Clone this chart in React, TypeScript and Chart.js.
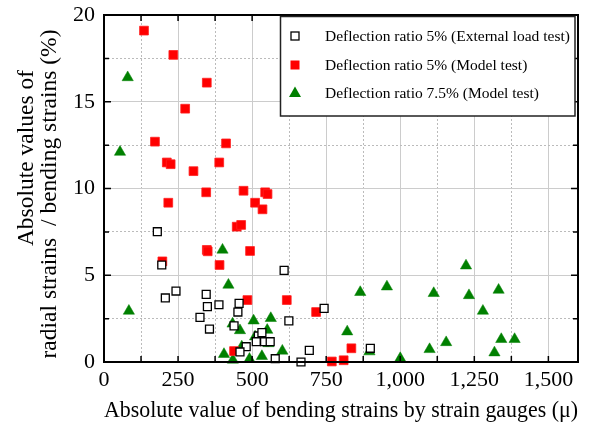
import React, { useEffect, useRef } from 'react';
import { Chart, registerables } from 'chart.js';

Chart.register(...registerables);

// ---------- data ----------
const seriesNames = [
  'Deflection ratio 5% (External load test)',
  'Deflection ratio 5% (Model test)',
  'Deflection ratio 7.5% (Model test)',
];

// [absolute bending strain (μ), radial/bending strain ratio (%)]
const externalLoad5: [number, number][] = [
  [180, 7.51], [195, 5.59], [243, 4.09], [207, 3.69], [345, 3.9], [349, 3.19],
  [388, 3.3], [456, 3.38], [452, 2.88], [324, 2.57], [356, 1.9], [439, 2.08],
  [608, 5.28], [624, 2.37], [743, 3.09], [693, 0.67], [480, 0.88], [459, 0.58],
  [521, 1.5], [533, 1.69], [514, 1.17], [542, 1.17], [561, 1.17], [578, 0.19],
  [665, 0.0], [899, 0.79],
];

const model5: [number, number][] = [
  [135, 19.1], [234, 17.7], [347, 16.1], [274, 14.6], [172, 12.7], [412, 12.6],
  [212, 11.5], [225, 11.4], [389, 11.5], [302, 11.0], [345, 9.78], [471, 9.87],
  [544, 9.78], [552, 9.68], [217, 9.18], [510, 9.18], [535, 8.8], [448, 7.8],
  [463, 7.9], [347, 6.46], [350, 6.38], [493, 6.4], [197, 5.8], [390, 5.59],
  [484, 3.57], [617, 3.57], [716, 2.88], [439, 0.63], [769, 0.03], [809, 0.1],
  [835, 0.79],
];

const model75: [number, number][] = [
  [80, 16.4], [54, 12.1], [400, 6.46], [420, 4.44], [84, 2.94], [505, 2.38],
  [563, 2.52], [434, 2.2], [459, 1.82], [551, 1.84], [510, 1.46], [465, 0.88],
  [555, 1.07], [405, 0.45], [435, 0.12], [491, 0.17], [533, 0.33], [602, 0.64],
  [821, 1.75], [865, 4.02], [955, 4.34], [1113, 3.96], [1222, 5.55], [1232, 3.84],
  [1332, 4.15], [1279, 2.94], [1341, 1.31], [1386, 1.31], [1155, 1.13], [1099, 0.73],
  [1318, 0.54], [1000, 0.21], [896, 0.6],
];

const xTickValues = [0, 125, 250, 375, 500, 625, 750, 875, 1000, 1125, 1250, 1375, 1500, 1600];
const xLabelEvery = 250;
const yTickValues = [0, 2.5, 5, 7.5, 10, 12.5, 15, 17.5, 20];
const yLabelEvery = 5;

const xTitle = 'Absolute value of bending strains by strain gauges (\u03bc)';
const yTitleLines = ['Absolute values of', 'radial strains  / bending strains (%)'];

const FONT = "'Liberation Serif', 'Times New Roman', serif";

const toPoints = (arr: [number, number][]) => arr.map(([x, y]) => ({ x, y }));

const isMajor = (v: number, every: number) => Math.abs(v / every - Math.round(v / every)) < 1e-6;

const decorPlugin = {
  id: 'decor',
  afterDraw(chart: any) {
    const { ctx, chartArea: a, scales } = chart;
    const xs = scales.x;
    const ys = scales.y;
    ctx.save();
    // frame
    ctx.strokeStyle = '#000';
    ctx.lineWidth = 2;
    ctx.strokeRect(a.left, a.top, a.right - a.left, a.bottom - a.top);
    // inward ticks
    ctx.lineWidth = 1.5;
    ctx.beginPath();
    xTickValues.forEach((v) => {
      if (v > 1500) return;
      const px = xs.getPixelForValue(v);
      const len = 6;
      ctx.moveTo(px, a.bottom);
      ctx.lineTo(px, a.bottom - len);
      ctx.moveTo(px, a.top);
      ctx.lineTo(px, a.top + len);
    });
    yTickValues.forEach((v) => {
      const py = ys.getPixelForValue(v);
      const len = isMajor(v, yLabelEvery) ? 7 : 5;
      ctx.moveTo(a.left, py);
      ctx.lineTo(a.left + len, py);
      ctx.moveTo(a.right, py);
      ctx.lineTo(a.right - len, py);
    });
    ctx.stroke();

    // y title (two rotated lines)
    ctx.fillStyle = '#000';
    ctx.font = `23.5px ${FONT}`;
    ctx.textAlign = 'center';
    ctx.textBaseline = 'middle';
    const yPos = [
      { x: 27, y: 158 },
      { x: 50, y: 194 },
    ];
    yTitleLines.forEach((t, i) => {
      ctx.save();
      ctx.translate(yPos[i].x, yPos[i].y);
      ctx.rotate(-Math.PI / 2);
      ctx.fillText(t, 0, 0);
      ctx.restore();
    });

    // legend box
    const bx = 280.5, by = 16.5, bw = 294.5, bh = 99.5;
    ctx.fillStyle = '#fff';
    ctx.fillRect(bx, by, bw, bh);
    ctx.strokeStyle = '#222';
    ctx.lineWidth = 1.5;
    ctx.strokeRect(bx, by, bw, bh);

    const rows = [36, 65, 93];
    const mx = 295;
    // open square
    ctx.lineWidth = 1.3;
    ctx.strokeStyle = '#000';
    ctx.strokeRect(mx - 4, rows[0] - 4, 8, 8);
    // red square
    ctx.fillStyle = '#ff0000';
    ctx.fillRect(mx - 4.5, rows[1] - 4.5, 9, 9);
    // green triangle
    ctx.fillStyle = '#008000';
    ctx.beginPath();
    ctx.moveTo(mx, rows[2] - 6.5);
    ctx.lineTo(mx + 6, rows[2] + 4);
    ctx.lineTo(mx - 6, rows[2] + 4);
    ctx.closePath();
    ctx.fill();

    ctx.fillStyle = '#000';
    ctx.font = `15.5px ${FONT}`;
    ctx.textAlign = 'left';
    ctx.textBaseline = 'middle';
    seriesNames.forEach((n, i) => ctx.fillText(n, 325, rows[i] + 1));
    ctx.restore();
  },
};

export default function App() {
  const ref = useRef<HTMLCanvasElement | null>(null);

  useEffect(() => {
    document.body.style.margin = '0';
    if (!ref.current) return;
    const chart = new Chart(ref.current, {
      type: 'scatter',
      data: {
        datasets: [
          {
            label: seriesNames[0],
            data: toPoints(externalLoad5),
            pointStyle: 'rect',
            pointRadius: 5.6,
            borderColor: '#000',
            backgroundColor: '#fff',
            borderWidth: 1.3,
            clip: false,
          },
          {
            label: seriesNames[1],
            data: toPoints(model5),
            pointStyle: 'rect',
            pointRadius: 6.2,
            borderColor: '#ff2020',
            backgroundColor: '#ff0000',
            borderWidth: 0.8,
            clip: false,
          },
          {
            label: seriesNames[2],
            data: toPoints(model75),
            pointStyle: 'triangle',
            pointRadius: 6.5,
            borderColor: '#008000',
            backgroundColor: '#008000',
            borderWidth: 0.5,
            clip: false,
          },
        ],
      },
      options: {
        animation: false,
        responsive: false,
        maintainAspectRatio: false,
        layout: { padding: { top: 15, right: 14, left: 0, bottom: 0 } },
        plugins: {
          legend: { display: false },
          tooltip: { enabled: false },
        },
        scales: {
          x: {
            type: 'linear',
            min: 0,
            max: 1600,
            afterBuildTicks: (axis: any) => {
              axis.ticks = xTickValues.map((value) => ({ value }));
            },
            afterFit: (axis: any) => {
              axis.height = 63;
              axis.paddingLeft = 0;
              axis.paddingRight = 0;
            },
            ticks: {
              autoSkip: false,
              maxRotation: 0,
              padding: 5,
              color: '#000',
              font: { family: FONT, size: 22 },
              callback: (v: any) => (isMajor(Number(v), xLabelEvery) ? Number(v).toLocaleString('en-US') : ''),
            },
            grid: {
              drawTicks: false,
              lineWidth: 1,
              color: (c: any) => (c.tick && isMajor(c.tick.value, xLabelEvery) ? '#cccccc' : '#bbbbbb'),
            },
            border: {
              display: false,
              dash: (c: any) => (c.tick && isMajor(c.tick.value, xLabelEvery) ? [] : [2, 2]),
            },
            title: {
              display: true,
              text: xTitle,
              color: '#000',
              font: { family: FONT, size: 23.8, lineHeight: 1.2 },
              padding: { top: 0, bottom: 0 },
            },
          },
          y: {
            type: 'linear',
            min: 0,
            max: 20,
            afterBuildTicks: (axis: any) => {
              axis.ticks = yTickValues.map((value) => ({ value }));
            },
            afterFit: (axis: any) => {
              axis.width = 104;
              axis.paddingTop = 0;
              axis.paddingBottom = 0;
            },
            ticks: {
              autoSkip: false,
              padding: 9,
              color: '#000',
              font: { family: FONT, size: 22 },
              callback: (v: any) => (isMajor(Number(v), yLabelEvery) ? String(v) : ''),
            },
            grid: {
              drawTicks: false,
              lineWidth: 1,
              color: (c: any) => (c.tick && isMajor(c.tick.value, yLabelEvery) ? '#cccccc' : '#bbbbbb'),
            },
            border: {
              display: false,
              dash: (c: any) => (c.tick && isMajor(c.tick.value, yLabelEvery) ? [] : [2, 2]),
            },
            title: { display: false },
          },
        },
      },
      plugins: [decorPlugin],
    } as any);
    return () => chart.destroy();
  }, []);

  return (
    <div style={{ width: 592, height: 425 }}>
      <canvas ref={ref} width={592} height={425} style={{ display: 'block', width: 592, height: 425 }} />
    </div>
  );
}
